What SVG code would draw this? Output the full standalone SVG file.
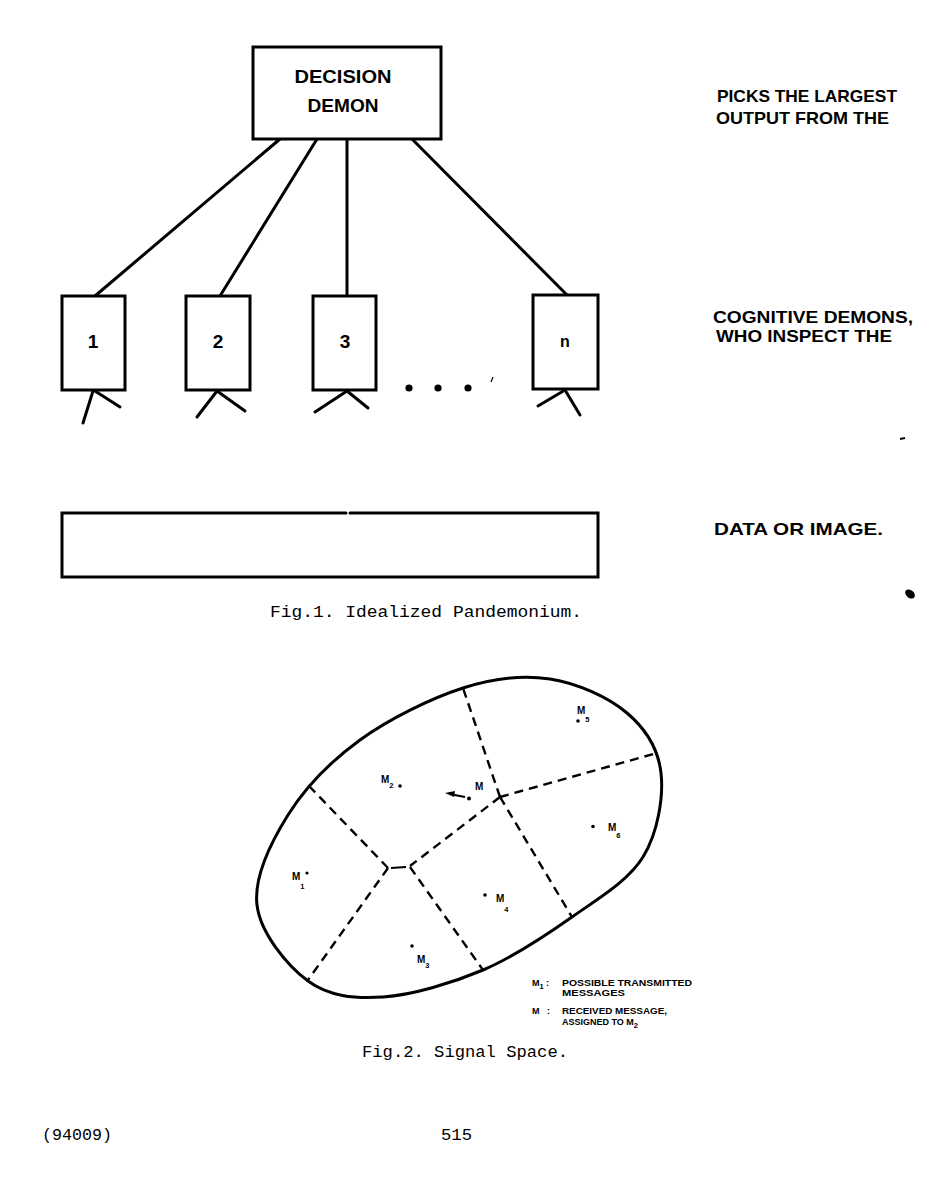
<svg xmlns="http://www.w3.org/2000/svg" width="945" height="1200" viewBox="0 0 945 1200">
<style>
.bx{fill:#fff;stroke:#000;stroke-width:3}
.ln{fill:none;stroke:#000;stroke-width:3;stroke-linecap:round}
.dash{fill:none;stroke:#000;stroke-width:2.4;stroke-dasharray:9 6}
.hand{font-family:"Liberation Sans",Arial,sans-serif;font-weight:bold;fill:#000}
.tw{font-family:"Liberation Mono","Courier New",monospace;fill:#000;font-size:16px}
.lab{font-family:"Liberation Sans",Arial,sans-serif;font-weight:bold;fill:#000;font-size:10px}
.sub{font-size:7.5px}
.leg{font-family:"Liberation Sans",Arial,sans-serif;font-weight:bold;fill:#000;font-size:9px}
</style>
<rect width="945" height="1200" fill="#fff"/>

<g id="connectors">
<line class="ln" x1="280" y1="139" x2="95" y2="296"/>
<line class="ln" x1="317" y1="139" x2="220" y2="296"/>
<line class="ln" x1="347" y1="139" x2="347" y2="296"/>
<line class="ln" x1="412" y1="139" x2="567" y2="295"/>
</g>

<g id="decision-demon">
<rect class="bx" x="253" y="47" width="188" height="92"/>
<text class="hand" x="343" y="83" font-size="19" text-anchor="middle" textLength="97" lengthAdjust="spacingAndGlyphs">DECISION</text>
<text class="hand" x="343" y="112" font-size="19" text-anchor="middle" textLength="71" lengthAdjust="spacingAndGlyphs">DEMON</text>
</g>

<g id="demon-1">
<rect class="bx" x="62" y="296" width="63" height="94"/>
<text class="hand" x="93" y="348" font-size="19" text-anchor="middle">1</text>
<line class="ln" x1="93" y1="391" x2="83" y2="423"/>
<line class="ln" x1="95" y1="391" x2="120" y2="407"/>
</g>
<g id="demon-2">
<rect class="bx" x="186" y="296" width="64" height="94"/>
<text class="hand" x="218" y="348" font-size="19" text-anchor="middle">2</text>
<line class="ln" x1="217" y1="391" x2="197" y2="417"/>
<line class="ln" x1="217" y1="391" x2="245" y2="411"/>
</g>
<g id="demon-3">
<rect class="bx" x="313" y="296" width="63" height="94"/>
<text class="hand" x="345" y="348" font-size="19" text-anchor="middle">3</text>
<line class="ln" x1="347" y1="391" x2="315" y2="412"/>
<line class="ln" x1="347" y1="391" x2="368" y2="408"/>
</g>
<g id="ellipsis">
<circle cx="409" cy="388" r="3.6"/>
<circle cx="438" cy="388" r="3.6"/>
<circle cx="468" cy="388" r="3.6"/>
<line x1="493" y1="377" x2="491" y2="382" stroke="#000" stroke-width="1.2"/>
</g>
<g id="demon-n">
<rect class="bx" x="533" y="295" width="65" height="94"/>
<text class="hand" x="565" y="347" font-size="16" text-anchor="middle">n</text>
<line class="ln" x1="565" y1="390" x2="538" y2="406"/>
<line class="ln" x1="565" y1="390" x2="580" y2="415"/>
</g>

<g id="data-image">
<path class="ln" d="M346,513 H62 V577 H598 V513 H350" stroke-linecap="butt"/>
</g>

<g id="notes">
<text class="hand" x="717" y="102" font-size="17" textLength="180" lengthAdjust="spacingAndGlyphs">PICKS THE  LARGEST</text>
<text class="hand" x="716" y="124" font-size="17" textLength="173" lengthAdjust="spacingAndGlyphs">OUTPUT FROM  THE</text>
<text class="hand" x="713" y="323" font-size="16" textLength="200" lengthAdjust="spacingAndGlyphs">COGNITIVE  DEMONS,</text>
<text class="hand" x="716" y="342" font-size="16" textLength="176" lengthAdjust="spacingAndGlyphs">WHO  INSPECT  THE</text>
<text class="hand" x="714" y="535" font-size="17" textLength="169" lengthAdjust="spacingAndGlyphs">DATA  OR  IMAGE.</text>
<line x1="900" y1="439" x2="905" y2="438" stroke="#000" stroke-width="2"/>
<ellipse cx="910" cy="594" rx="5.5" ry="3.8" transform="rotate(40 910 594)"/>
</g>

<text class="tw" x="270" y="617" textLength="312" lengthAdjust="spacingAndGlyphs">Fig.1. Idealized Pandemonium.</text>

<g id="signal-space">
<path class="ln" stroke-width="2.6" d="M257,905 C253.7,877.3 270.8,842.5 288,815 C305.2,787.5 330.8,761.2 360,740 C389.2,718.8 431.3,698.2 463,688 C494.7,677.8 522.7,674.8 550,679 C577.3,683.2 608.5,697.3 627,713 C645.5,728.7 658.3,749 661,773 C663.7,797 657.8,833 643,857 C628.2,881 598.7,898.2 572,917 C545.3,935.8 514.5,956.7 483,970 C451.5,983.3 412.2,995.2 383,997 C353.8,998.8 329,996.3 308,981 C287,965.7 260.3,932.7 257,905 Z"/>
</g>

<g id="boundaries">
<line class="dash" x1="500" y1="797" x2="463" y2="688"/>
<line class="dash" x1="500" y1="797" x2="657" y2="753"/>
<line class="dash" x1="500" y1="797" x2="572" y2="917"/>
<line class="dash" x1="500" y1="797" x2="410" y2="866"/>
<line class="dash" x1="410" y1="867" x2="483" y2="970"/>
<line class="dash" x1="388" y1="868" x2="310" y2="787"/>
<line class="dash" x1="388" y1="868" x2="308" y2="980"/>
<line x1="391" y1="868" x2="406" y2="867" stroke="#000" stroke-width="2.2"/>
</g>

<g id="messages">
<circle cx="578" cy="721" r="1.8"/>
<text class="lab" x="577" y="714">M<tspan class="sub" dy="8">5</tspan></text>
<circle cx="400" cy="786" r="1.8"/>
<text class="lab" x="381" y="783">M<tspan class="sub" dy="5">2</tspan></text>
<circle cx="469" cy="798.5" r="2"/>
<text class="lab" x="475" y="790">M</text>
<line x1="465" y1="797" x2="452" y2="794.5" stroke="#000" stroke-width="2"/>
<polygon points="445,793 455,791 454,797"/>
<circle cx="593" cy="826.5" r="1.8"/>
<text class="lab" x="608" y="831">M<tspan class="sub" dy="7">6</tspan></text>
<circle cx="307" cy="873" r="1.6"/>
<text class="lab" x="292" y="880">M<tspan class="sub" dy="9">1</tspan></text>
<circle cx="485" cy="895" r="1.8"/>
<text class="lab" x="496" y="902">M<tspan class="sub" dy="10">4</tspan></text>
<circle cx="412" cy="946" r="1.8"/>
<text class="lab" x="417" y="963">M<tspan class="sub" dy="5">3</tspan></text>
</g>

<g id="legend">
<text class="leg" x="532" y="986">M<tspan class="sub" dy="3">1</tspan><tspan x="546" dy="-3">:</tspan></text>
<text class="leg" x="562" y="986" textLength="130" lengthAdjust="spacingAndGlyphs">POSSIBLE  TRANSMITTED</text>
<text class="leg" x="562" y="996" textLength="63" lengthAdjust="spacingAndGlyphs">MESSAGES</text>
<text class="leg" x="532" y="1014">M<tspan x="547">:</tspan></text>
<text class="leg" x="562" y="1014" textLength="105" lengthAdjust="spacingAndGlyphs">RECEIVED  MESSAGE,</text>
<text class="leg" x="562" y="1025">ASSIGNED  TO  M<tspan class="sub" dy="3">2</tspan></text>
</g>

<text class="tw" x="362" y="1057" textLength="206" lengthAdjust="spacingAndGlyphs">Fig.2. Signal Space.</text>
<text class="tw" x="42" y="1140" textLength="70" lengthAdjust="spacingAndGlyphs">(94009)</text>
<text class="tw" x="441" y="1140" textLength="31" lengthAdjust="spacingAndGlyphs">515</text>
</svg>
